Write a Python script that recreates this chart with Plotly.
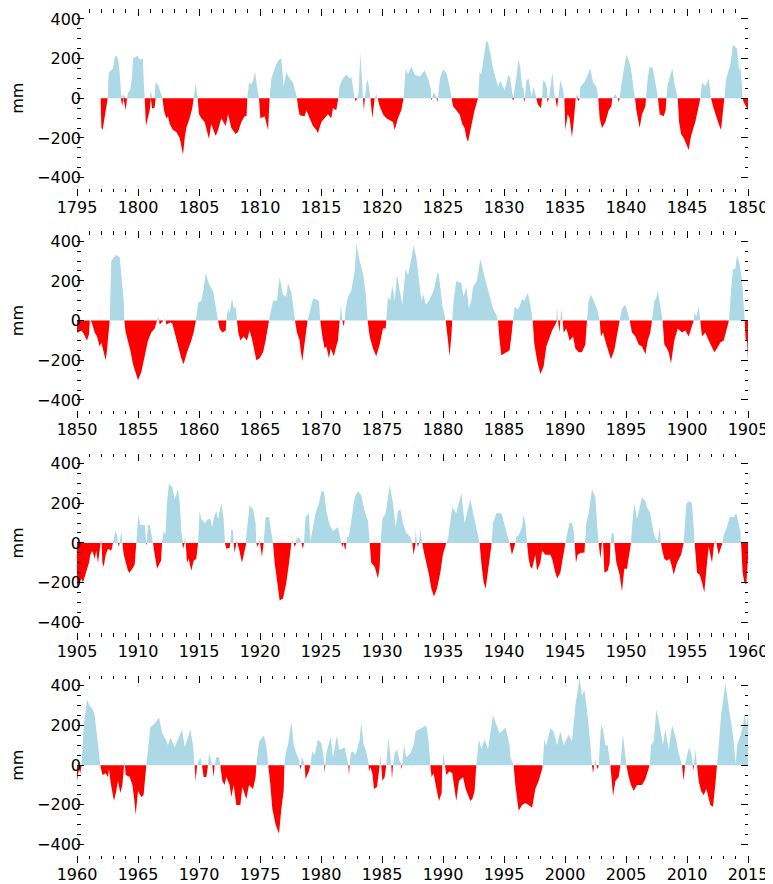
import numpy as np
import plotly.graph_objects as go

# (year, anomaly in mm)
p1 = [(1796.94,0),(1797.0,-150),(1797.1,-160),(1797.4,-60),(1797.52,0),(1797.6,130),(1797.95,150),(1798.1,210),(1798.22,215),(1798.36,200),(1798.5,130),(1798.6,30),(1798.7,-40),(1798.8,20),(1799.0,-60),(1799.1,0),(1799.2,30),(1799.35,40),(1799.5,100),(1799.6,200),(1799.95,215),(1800.15,195),(1800.4,200),(1800.46,100),(1800.55,0),(1800.65,-140),(1800.82,-100),(1800.96,-60),(1801.05,40),(1801.15,-50),(1801.35,-50),(1801.45,85),(1801.7,60),(1801.9,20),(1802.0,0),(1802.13,-60),(1802.32,-100),(1802.46,-90),(1802.6,-130),(1802.87,-160),(1803.14,-170),(1803.42,-200),(1803.69,-285),(1803.83,-200),(1803.96,-150),(1804.23,-100),(1804.45,-50),(1804.56,0),(1804.73,75),(1804.89,0),(1805.0,-80),(1805.19,-100),(1805.46,-120),(1805.82,-205),(1806.0,-130),(1806.37,-190),(1806.56,-160),(1806.83,-100),(1807.19,-140),(1807.38,-80),(1807.65,-150),(1808.0,-180),(1808.2,-170),(1808.47,-120),(1808.74,-90),(1808.9,-90),(1808.96,0),(1809.1,80),(1809.3,70),(1809.43,90),(1809.6,130),(1809.75,60),(1809.92,0),(1810.03,-100),(1810.38,-90),(1810.66,-160),(1810.79,0),(1810.93,100),(1811.2,150),(1811.48,190),(1811.75,200),(1811.94,60),(1812.16,130),(1812.43,100),(1812.7,80),(1812.92,30),(1813.03,0),(1813.11,-40),(1813.25,-85),(1813.66,-90),(1813.8,-60),(1814.07,-100),(1814.34,-140),(1814.62,-160),(1814.75,-176),(1815.03,-120),(1815.3,-100),(1815.57,-80),(1815.84,-100),(1815.98,-50),(1816.25,-60),(1816.42,0),(1816.53,65),(1816.8,100),(1817.07,120),(1817.35,100),(1817.48,110),(1817.68,40),(1817.76,0),(1817.84,-15),(1817.98,0),(1818.09,30),(1818.22,230),(1818.39,60),(1818.44,0),(1818.52,-60),(1818.6,0),(1818.77,100),(1818.93,60),(1819.05,0),(1819.21,-100),(1819.4,0),(1819.53,20),(1819.65,0),(1819.81,-40),(1820.08,-80),(1820.35,-100),(1820.63,-110),(1820.9,-120),(1821.04,-160),(1821.31,-100),(1821.58,-60),(1821.77,0),(1821.94,150),(1822.13,120),(1822.4,160),(1822.68,120),(1823.09,110),(1823.5,140),(1823.77,100),(1824.0,50),(1824.04,-10),(1824.1,0),(1824.23,30),(1824.48,0),(1824.53,-20),(1824.58,0),(1824.75,100),(1824.99,145),(1825.27,130),(1825.54,60),(1825.71,0),(1825.82,-40),(1826.09,-60),(1826.36,-80),(1826.58,-130),(1826.77,-150),(1826.91,-195),(1827.05,-220),(1827.32,-140),(1827.59,-60),(1827.87,0),(1828.0,130),(1828.14,120),(1828.33,200),(1828.55,290),(1828.69,280),(1828.88,230),(1829.1,150),(1829.31,100),(1829.51,60),(1829.7,90),(1830.05,40),(1830.38,120),(1830.52,100),(1830.66,30),(1830.74,-10),(1830.79,0),(1830.85,40),(1831.01,100),(1831.2,200),(1831.34,150),(1831.48,60),(1831.61,50),(1831.67,-20),(1831.72,0),(1831.83,90),(1832.02,100),(1832.16,40),(1832.27,10),(1832.43,60),(1832.57,20),(1832.65,0),(1832.76,-30),(1833.03,-50),(1833.12,0),(1833.2,90),(1833.39,80),(1833.53,50),(1833.58,-20),(1833.69,0),(1833.96,130),(1834.13,20),(1834.21,0),(1834.35,-50),(1834.45,0),(1834.62,90),(1834.81,50),(1834.95,0),(1835.03,-160),(1835.22,-80),(1835.38,-100),(1835.57,-195),(1835.71,-120),(1835.88,0),(1835.98,20),(1836.12,-15),(1836.2,0),(1836.26,60),(1836.59,80),(1836.86,120),(1837.08,150),(1837.3,80),(1837.57,60),(1837.73,0),(1837.84,-100),(1838.03,-150),(1838.31,-120),(1838.58,-60),(1838.8,-40),(1838.88,0),(1839.13,20),(1839.32,0),(1839.4,-20),(1839.48,0),(1839.59,60),(1839.81,130),(1840.03,220),(1840.22,190),(1840.41,150),(1840.63,40),(1840.74,0),(1840.85,-60),(1840.98,-100),(1841.12,-150),(1841.31,-80),(1841.59,-40),(1841.64,0),(1841.78,100),(1841.94,160),(1842.21,150),(1842.4,90),(1842.54,30),(1842.62,0),(1842.76,-80),(1843.09,-90),(1843.25,-60),(1843.31,0),(1843.42,70),(1843.63,120),(1843.8,150),(1843.96,80),(1844.13,40),(1844.24,0),(1844.35,-120),(1844.51,-180),(1844.73,-200),(1845.14,-260),(1845.33,-190),(1845.68,-120),(1845.96,-40),(1846.09,0),(1846.23,80),(1846.5,60),(1846.78,100),(1846.97,0),(1847.13,-40),(1847.32,-80),(1847.6,-130),(1847.79,-160),(1848.06,0),(1848.22,100),(1848.55,170),(1848.77,270),(1849.1,250),(1849.26,140),(1849.37,160),(1849.51,60),(1849.56,0),(1849.65,-20),(1849.97,-60),(1850.0,-60)]

p2 = [(1850.0,-60),(1850.08,-60),(1850.36,-50),(1850.49,-60),(1850.82,-100),(1850.98,-70),(1851.05,0),(1851.09,10),(1851.14,0),(1851.26,-20),(1851.45,-60),(1851.64,-80),(1851.86,-130),(1851.99,-110),(1852.19,-160),(1852.35,-200),(1852.46,-150),(1852.6,-60),(1852.68,0),(1852.81,300),(1853.17,330),(1853.5,320),(1853.69,200),(1853.83,100),(1853.88,0),(1853.99,-60),(1854.18,-100),(1854.37,-150),(1854.59,-220),(1854.81,-270),(1855.0,-300),(1855.27,-260),(1855.46,-200),(1855.63,-150),(1855.82,-100),(1856.09,-60),(1856.37,-40),(1856.56,0),(1856.64,20),(1856.72,0),(1856.78,-20),(1857.1,0),(1857.19,10),(1857.27,0),(1857.32,-20),(1857.65,-10),(1857.81,-15),(1857.92,-40),(1858.14,-100),(1858.36,-150),(1858.55,-190),(1858.74,-220),(1859.02,-160),(1859.37,-100),(1859.56,-60),(1859.75,0),(1859.92,90),(1860.19,100),(1860.38,160),(1860.55,240),(1860.74,200),(1860.93,170),(1861.15,150),(1861.42,60),(1861.56,0),(1861.69,-40),(1861.91,-60),(1862.19,-50),(1862.24,0),(1862.38,60),(1862.51,40),(1862.7,110),(1862.87,60),(1863.01,70),(1863.11,0),(1863.22,-60),(1863.39,-100),(1863.66,-80),(1863.93,-100),(1864.15,-50),(1864.37,-100),(1864.7,-200),(1864.97,-190),(1865.25,-160),(1865.46,-100),(1865.74,0),(1866.07,100),(1866.39,100),(1866.61,220),(1866.75,180),(1866.88,130),(1867.16,120),(1867.29,190),(1867.57,140),(1867.76,40),(1867.87,0),(1868.03,-60),(1868.25,-100),(1868.33,-150),(1868.47,-205),(1868.58,-150),(1868.74,-80),(1868.9,0),(1869.07,40),(1869.34,110),(1869.48,110),(1869.83,100),(1869.94,0),(1870.11,-80),(1870.3,-140),(1870.44,-130),(1870.65,-190),(1870.79,-140),(1871.06,-180),(1871.25,-130),(1871.39,-100),(1871.53,0),(1871.64,80),(1871.75,0),(1871.86,-30),(1871.94,0),(1872.02,60),(1872.21,120),(1872.48,150),(1872.76,250),(1872.9,385),(1873.17,300),(1873.44,240),(1873.66,140),(1873.82,0),(1873.99,-80),(1874.26,-140),(1874.53,-180),(1874.81,-120),(1875.08,-40),(1875.3,-40),(1875.35,0),(1875.49,120),(1875.68,100),(1875.84,180),(1876.04,100),(1876.23,230),(1876.45,150),(1876.66,80),(1876.94,260),(1877.13,230),(1877.4,310),(1877.59,380),(1877.81,320),(1878.09,150),(1878.22,100),(1878.41,130),(1878.58,80),(1878.85,100),(1879.23,150),(1879.59,250),(1879.72,200),(1879.94,80),(1880.22,0),(1880.41,-100),(1880.54,-180),(1880.68,-80),(1880.76,0),(1880.87,100),(1881.09,200),(1881.5,190),(1881.69,120),(1881.91,170),(1882.13,60),(1882.32,100),(1882.46,170),(1882.78,200),(1883.06,310),(1883.33,240),(1883.69,150),(1884.1,60),(1884.37,30),(1884.51,0),(1884.64,-100),(1884.78,-175),(1885.19,-160),(1885.46,-150),(1885.6,-80),(1885.74,0),(1885.87,70),(1886.06,60),(1886.2,60),(1886.34,80),(1886.5,110),(1886.67,100),(1886.94,140),(1887.16,80),(1887.35,0),(1887.49,-120),(1887.71,-200),(1887.98,-270),(1888.25,-230),(1888.47,-130),(1888.66,-100),(1888.94,-50),(1889.21,-20),(1889.29,0),(1889.35,60),(1889.43,0),(1889.54,-60),(1889.62,0),(1889.7,60),(1889.81,0),(1889.89,-60),(1890.11,-40),(1890.38,-100),(1890.66,-80),(1890.85,-140),(1891.12,-160),(1891.39,-160),(1891.67,-120),(1891.8,0),(1891.94,100),(1892.13,130),(1892.35,100),(1892.62,60),(1892.84,0),(1892.95,-80),(1893.12,-60),(1893.39,-120),(1893.77,-195),(1894.04,-150),(1894.32,-60),(1894.48,0),(1894.67,60),(1894.95,80),(1895.22,20),(1895.3,0),(1895.49,-60),(1895.77,-80),(1896.04,-120),(1896.31,-130),(1896.59,-170),(1896.78,-100),(1896.99,-60),(1897.13,0),(1897.32,100),(1897.46,110),(1897.6,150),(1897.81,60),(1898.0,0),(1898.14,-120),(1898.36,-140),(1898.5,-160),(1898.69,-215),(1898.96,-100),(1899.24,-40),(1899.59,-60),(1899.86,-50),(1900.14,-80),(1900.41,-20),(1900.55,0),(1900.63,40),(1900.77,20),(1900.96,70),(1901.09,0),(1901.23,-80),(1901.5,-60),(1901.78,-100),(1902.05,-140),(1902.24,-160),(1902.46,-140),(1902.73,-110),(1903.01,-100),(1903.28,-40),(1903.44,0),(1903.61,150),(1903.77,260),(1903.96,260),(1904.1,330),(1904.32,280),(1904.51,200),(1904.65,80),(1904.73,0),(1904.81,-100),(1904.92,-100),(1905.0,-200)]

p3 = [(1905.0,-230),(1905.36,-180),(1905.49,-200),(1905.82,-140),(1905.98,-100),(1906.09,-60),(1906.26,-40),(1906.45,-80),(1906.58,-40),(1906.72,-100),(1906.86,-30),(1906.9,0),(1906.94,20),(1907.02,0),(1907.08,-100),(1907.19,-120),(1907.35,-60),(1907.54,-30),(1907.81,-40),(1907.95,0),(1908.14,60),(1908.28,40),(1908.36,0),(1908.42,-20),(1908.5,0),(1908.63,60),(1908.72,0),(1908.83,-60),(1908.99,-100),(1909.18,-140),(1909.32,-150),(1909.54,-130),(1909.73,-110),(1909.86,0),(1910.03,140),(1910.19,90),(1910.55,90),(1910.64,0),(1910.68,-10),(1910.72,0),(1910.82,90),(1910.96,90),(1911.15,30),(1911.23,0),(1911.37,-60),(1911.56,-130),(1911.72,-110),(1911.89,-90),(1911.97,0),(1912.1,60),(1912.24,40),(1912.38,200),(1912.54,300),(1912.81,280),(1913.01,220),(1913.28,270),(1913.42,200),(1913.55,60),(1913.63,0),(1913.69,-30),(1913.77,0),(1913.83,30),(1913.91,0),(1914.02,-100),(1914.15,-80),(1914.37,-140),(1914.56,-90),(1914.78,-80),(1914.92,0),(1915.05,160),(1915.19,120),(1915.46,100),(1915.74,120),(1915.93,120),(1916.07,80),(1916.28,140),(1916.42,160),(1916.56,120),(1916.83,200),(1917.02,120),(1917.13,0),(1917.24,-30),(1917.51,-25),(1917.57,0),(1917.65,70),(1917.79,60),(1917.84,0),(1917.92,-50),(1918.0,0),(1918.06,20),(1918.14,0),(1918.28,-30),(1918.52,-100),(1918.74,-40),(1918.83,0),(1918.88,40),(1919.15,190),(1919.43,170),(1919.64,100),(1919.7,0),(1919.78,-20),(1919.86,0),(1919.92,20),(1920.0,0),(1920.16,-70),(1920.3,0),(1920.46,130),(1920.74,130),(1920.93,50),(1921.07,0),(1921.2,-100),(1921.39,-200),(1921.61,-290),(1921.89,-280),(1922.16,-200),(1922.38,-100),(1922.57,0),(1922.65,10),(1922.76,0),(1922.84,-20),(1922.92,0),(1922.98,20),(1923.19,30),(1923.39,0),(1923.52,-30),(1923.6,0),(1923.74,130),(1924.01,150),(1924.12,5),(1924.29,60),(1924.56,150),(1924.83,200),(1925.03,260),(1925.24,260),(1925.44,160),(1925.71,90),(1925.98,60),(1926.39,80),(1926.58,20),(1926.66,0),(1926.75,-20),(1926.86,0),(1926.99,-40),(1927.07,0),(1927.16,30),(1927.29,30),(1927.57,150),(1927.76,230),(1928.03,260),(1928.3,240),(1928.58,160),(1928.85,110),(1928.99,0),(1929.12,-100),(1929.4,-120),(1929.67,-180),(1929.81,-120),(1929.89,0),(1930.03,120),(1930.3,150),(1930.63,290),(1930.9,200),(1931.12,80),(1931.31,160),(1931.5,170),(1931.72,100),(1931.99,50),(1932.32,30),(1932.48,0),(1932.59,-60),(1932.7,0),(1932.76,70),(1932.87,0),(1932.95,-20),(1933.03,0),(1933.14,70),(1933.3,0),(1933.41,-40),(1933.63,-100),(1933.85,-160),(1934.04,-230),(1934.26,-270),(1934.51,-230),(1934.78,-150),(1934.99,-60),(1935.27,0),(1935.41,20),(1935.76,180),(1936.09,150),(1936.5,250),(1936.77,100),(1937.24,220),(1937.51,140),(1937.78,60),(1938.0,0),(1938.14,-100),(1938.33,-200),(1938.5,-230),(1938.69,-150),(1938.88,-60),(1938.99,0),(1939.1,100),(1939.37,150),(1939.78,150),(1940.19,60),(1940.41,20),(1940.46,0),(1940.65,-60),(1940.93,0),(1941.01,30),(1941.2,40),(1941.48,80),(1941.61,140),(1941.75,100),(1941.89,0),(1942.02,-80),(1942.16,-120),(1942.3,-130),(1942.57,-60),(1942.71,-140),(1942.98,-100),(1943.12,-40),(1943.39,-60),(1943.8,-60),(1943.94,-80),(1944.21,-150),(1944.35,-180),(1944.62,-150),(1944.84,-80),(1945.03,0),(1945.22,60),(1945.38,100),(1945.57,100),(1945.71,60),(1945.79,0),(1945.9,-100),(1946.04,-60),(1946.31,-50),(1946.59,-50),(1946.64,0),(1946.75,100),(1946.94,150),(1947.21,270),(1947.49,230),(1947.62,100),(1947.76,0),(1947.9,-80),(1947.98,0),(1948.03,20),(1948.12,0),(1948.23,-150),(1948.5,-140),(1948.66,-100),(1948.72,0),(1948.85,50),(1948.99,50),(1949.04,0),(1949.21,-100),(1949.48,-160),(1949.67,-245),(1949.86,-130),(1950.08,-130),(1950.36,-20),(1950.41,0),(1950.52,100),(1950.68,200),(1950.9,120),(1951.12,180),(1951.31,230),(1951.59,210),(1951.72,180),(1951.99,150),(1952.27,50),(1952.46,20),(1952.6,10),(1952.76,80),(1952.87,0),(1952.98,-40),(1953.14,-80),(1953.36,-90),(1953.58,-80),(1953.77,-120),(1953.91,-160),(1954.18,-100),(1954.51,-60),(1954.73,0),(1954.95,200),(1955.22,210),(1955.41,200),(1955.63,0),(1955.82,-150),(1956.04,-160),(1956.23,-200),(1956.42,-250),(1956.64,-100),(1956.78,-20),(1956.91,-60),(1957.05,-100),(1957.19,-20),(1957.24,0),(1957.32,20),(1957.41,0),(1957.6,-60),(1957.79,-20),(1957.9,0),(1958.01,40),(1958.28,80),(1958.5,130),(1958.83,130),(1959.04,150),(1959.24,100),(1959.37,60),(1959.43,0),(1959.56,-150),(1959.7,-200),(1959.86,-210),(1959.97,-100),(1960.0,-80)]

p4 = [(1960.0,-80),(1960.16,-20),(1960.27,-40),(1960.38,0),(1960.55,200),(1960.82,330),(1961.04,300),(1961.31,280),(1961.45,250),(1961.64,150),(1961.8,50),(1961.91,0),(1962.08,-50),(1962.35,-40),(1962.54,-60),(1962.62,-20),(1962.76,-90),(1963.03,-180),(1963.22,-130),(1963.36,-80),(1963.55,-140),(1963.72,-100),(1963.83,-20),(1963.85,20),(1963.93,0),(1963.99,-50),(1964.32,-60),(1964.54,-100),(1964.67,-160),(1964.81,-250),(1965.0,-130),(1965.27,-160),(1965.46,-150),(1965.6,-60),(1965.68,0),(1965.77,50),(1966.01,190),(1966.37,210),(1966.72,240),(1966.99,160),(1967.27,130),(1967.46,100),(1967.65,140),(1968.01,90),(1968.28,130),(1968.61,180),(1968.83,90),(1969.1,150),(1969.29,180),(1969.51,100),(1969.64,0),(1969.73,-80),(1969.84,0),(1969.95,20),(1970.11,40),(1970.25,0),(1970.38,-60),(1970.6,-60),(1970.74,0),(1970.82,60),(1971.01,20),(1971.09,0),(1971.2,-60),(1971.28,0),(1971.42,40),(1971.64,40),(1971.75,0),(1971.91,-80),(1972.1,-100),(1972.24,-60),(1972.51,-100),(1972.65,-160),(1972.84,-100),(1973.06,-200),(1973.39,-200),(1973.55,-110),(1973.88,-170),(1974.1,-100),(1974.43,-120),(1974.64,-60),(1974.7,0),(1974.92,120),(1975.3,150),(1975.52,100),(1975.68,0),(1975.85,-100),(1976.01,-220),(1976.28,-300),(1976.56,-345),(1976.75,-220),(1976.94,-130),(1977.0,0),(1977.1,60),(1977.29,100),(1977.57,220),(1977.76,100),(1977.98,60),(1978.19,30),(1978.25,0),(1978.3,-20),(1978.36,0),(1978.41,40),(1978.58,20),(1978.66,0),(1978.74,-70),(1979.01,-30),(1979.12,0),(1979.29,70),(1979.48,50),(1979.75,130),(1980.03,110),(1980.22,40),(1980.27,0),(1980.3,-40),(1980.35,0),(1980.44,60),(1980.65,110),(1980.79,140),(1980.98,40),(1981.31,150),(1981.47,80),(1981.66,80),(1981.94,90),(1982.16,20),(1982.24,0),(1982.29,-50),(1982.35,0),(1982.43,60),(1982.62,70),(1982.84,50),(1983.03,100),(1983.17,130),(1983.3,215),(1983.5,100),(1983.66,80),(1983.85,20),(1983.9,0),(1983.93,-30),(1984.04,-10),(1984.21,-40),(1984.34,-120),(1984.59,-110),(1984.75,-20),(1984.81,0),(1984.86,50),(1984.94,0),(1985.03,-80),(1985.22,-60),(1985.35,0),(1985.52,140),(1985.68,20),(1985.76,0),(1985.82,-70),(1985.9,0),(1986.04,60),(1986.23,80),(1986.45,20),(1986.56,0),(1986.61,-20),(1986.66,0),(1986.8,100),(1986.99,40),(1987.32,60),(1987.59,100),(1987.76,170),(1988.03,180),(1988.36,190),(1988.63,200),(1988.82,120),(1988.96,0),(1989.07,-60),(1989.23,-40),(1989.4,-100),(1989.67,-180),(1989.89,-140),(1989.94,0),(1990.05,60),(1990.16,0),(1990.27,-50),(1990.54,-30),(1990.76,-40),(1991.09,-180),(1991.31,-80),(1991.64,-60),(1991.86,-120),(1992.05,-150),(1992.24,-180),(1992.4,-170),(1992.59,-130),(1992.73,0),(1992.95,130),(1993.14,80),(1993.41,130),(1993.69,80),(1994.1,250),(1994.37,200),(1994.64,160),(1995.13,190),(1995.46,100),(1995.52,40),(1995.79,0),(1995.93,-100),(1996.07,-180),(1996.2,-230),(1996.48,-200),(1996.75,-190),(1997.02,-200),(1997.3,-215),(1997.57,-120),(1997.84,-80),(1998.12,-20),(1998.17,0),(1998.31,130),(1998.47,100),(1998.8,185),(1999.07,170),(1999.35,100),(1999.62,170),(1999.89,100),(2000.3,155),(2000.57,120),(2000.85,300),(2001.2,440),(2001.39,350),(2001.59,380),(2001.86,250),(2002.08,100),(2002.21,0),(2002.3,-40),(2002.38,0),(2002.49,30),(2002.57,0),(2002.68,-20),(2002.76,0),(2002.95,200),(2003.12,180),(2003.31,100),(2003.5,100),(2003.72,0),(2003.94,-155),(2004.13,-80),(2004.4,-60),(2004.54,0),(2004.75,155),(2005.03,0),(2005.22,-60),(2005.41,-100),(2005.63,-130),(2005.9,-100),(2006.31,-100),(2006.59,-70),(2006.94,0),(2007.05,100),(2007.27,120),(2007.49,280),(2007.76,200),(2008.03,100),(2008.22,180),(2008.5,80),(2008.77,200),(2009.04,150),(2009.32,60),(2009.59,0),(2009.73,-80),(2009.84,0),(2010.0,50),(2010.19,90),(2010.41,40),(2010.47,0),(2010.49,-30),(2010.57,0),(2010.68,80),(2010.82,0),(2010.96,-80),(2011.15,-130),(2011.37,-150),(2011.59,-120),(2011.91,-200),(2012.13,-210),(2012.32,-100),(2012.46,0),(2012.6,100),(2012.79,250),(2013.14,410),(2013.42,300),(2013.55,250),(2013.77,150),(2014.0,5),(2014.1,100),(2014.38,150),(2014.59,200),(2014.7,260),(2014.87,200),(2015.0,250)]

panels = [p1, p2, p3, p4]
starts = [1795, 1850, 1905, 1960]
ytickvals = [-400, -200, 0, 200, 400]

BLUE = "#ADD8E6"
RED = "#FF0000"
FONT = dict(family="DejaVu Sans", size=16, color="#000000")

# the page body has an 8px margin; the figure is sized so that it fills the window
W, H = 765, 876
MT, MB, ML, MR = 1, 29, 69, 25
plot_h = H - MT - MB
panel_h = 178.6
gap = 222.3

fig = go.Figure()
layout = dict(
    width=W, height=H,
    margin=dict(l=ML, r=MR, t=MT, b=MB, pad=0, autoexpand=False),
    paper_bgcolor="white", plot_bgcolor="white",
    showlegend=False, font=FONT,
)

for k, (pts, s) in enumerate(zip(panels, starts)):
    t = np.array([p[0] for p in pts])
    v = np.array([p[1] for p in pts], dtype=float)
    pos = np.maximum(v, 0)
    neg = np.minimum(v, 0)
    xa = "x" if k == 0 else f"x{k+1}"
    ya = "y" if k == 0 else f"y{k+1}"
    fig.add_trace(go.Scatter(x=t, y=pos, mode="lines", line=dict(width=0, color=BLUE),
                             fill="tozeroy", fillcolor=BLUE, xaxis=xa, yaxis=ya, hoverinfo="skip"))
    fig.add_trace(go.Scatter(x=t, y=neg, mode="lines", line=dict(width=0, color=RED),
                             fill="tozeroy", fillcolor=RED, xaxis=xa, yaxis=ya, hoverinfo="skip"))
    # dummy trace for the top tick axis
    fig.add_trace(go.Scatter(x=[None], y=[None], mode="lines", xaxis=f"x{k+5}", yaxis=ya,
                             hoverinfo="skip"))

    top_px = MT + gap * k
    d_top = 1 - (top_px - MT) / plot_h
    d_bot = 1 - (top_px + panel_h - MT) / plot_h
    d_top = min(1.0, d_top)
    d_bot = max(0.0, d_bot)

    xr = [s, s + 55]
    common_x = dict(range=xr, showgrid=False, zeroline=False, showline=False,
                    tickmode="linear", tick0=s, dtick=5, tickwidth=1, tickcolor="#000000",
                    ticklen=7, automargin=False)
    layout["xaxis" if k == 0 else f"xaxis{k+1}"] = dict(
        common_x, anchor=ya, ticks="outside", showticklabels=True, tickfont=FONT,
        ticklabelstandoff=-2,
        minor=dict(ticks="outside", ticklen=3.5, dtick=1, tick0=s, tickwidth=1,
                   tickcolor="#000000", showgrid=False),
    )
    layout[f"xaxis{k+5}"] = dict(
        common_x, anchor=ya, overlaying=xa, side="top", ticks="inside", showticklabels=False,
        minor=dict(ticks="inside", ticklen=3.5, dtick=1, tick0=s, tickwidth=1,
                   tickcolor="#000000", showgrid=False),
    )
    layout["yaxis" if k == 0 else f"yaxis{k+1}"] = dict(
        domain=[d_bot, d_top], anchor=xa, range=[-450, 450], automargin=False,
        tickmode="array", tickvals=ytickvals, ticks="inside", ticklen=7, tickwidth=1,
        tickcolor="#000000", mirror="ticks", showline=False, showgrid=False, zeroline=False,
        tickfont=FONT, ticklabelstandoff=-5,
        minor=dict(ticks="inside", ticklen=3.5, dtick=50, tick0=0, tickwidth=1,
                   tickcolor="#000000", showgrid=False),
        title=dict(text="mm", font=FONT, standoff=16),
    )

fig.update_layout(**layout)
fig.write_html("out.html")
